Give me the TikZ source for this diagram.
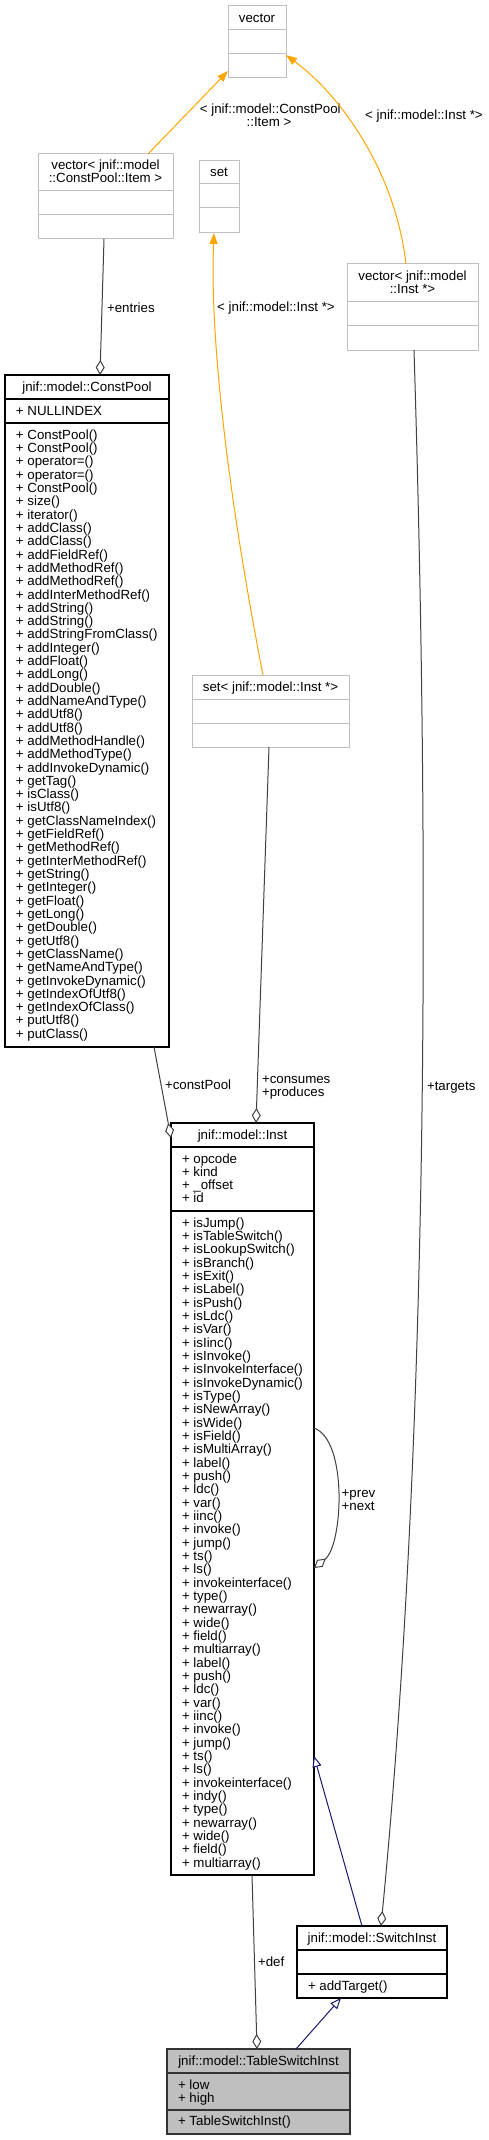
\documentclass[tikz,border=0pt]{standalone}
\usepackage{fontspec}
\setmainfont{Liberation Sans}
\usetikzlibrary{arrows.meta,calc}
\definecolor{boxgray}{HTML}{BFBFBF}
\definecolor{tmplorange}{HTML}{FFA500}
\definecolor{edgegray}{HTML}{404040}
\definecolor{inhnavy}{HTML}{191970}
\definecolor{tsfill}{HTML}{BFBFBF}
\begin{document}
\begin{tikzpicture}[x=1pt,y=-1pt,
  every node/.style={font=\fontsize{13.3}{13.3}\selectfont, inner sep=0pt, outer sep=0pt},
  graybox/.style={draw=boxgray, line width=1pt, anchor=north west, fill=white},
  blackbox/.style={draw=black, line width=1.1pt, anchor=north west, fill=white},
  tsbox/.style={draw=black!80, line width=1.1pt, anchor=north west, fill=tsfill},
  graydiv/.style={draw=boxgray, line width=1pt},
  blackdiv/.style={draw=black, line width=1.1pt},
  ttl/.style={anchor=base},
  mem/.style={anchor=base west},
  lbl/.style={anchor=base west},
  clbl/.style={anchor=base},
  tmpl/.style={draw=tmplorange, line width=1pt, -{Triangle[length=11pt,width=8pt,fill=tmplorange]}},
  inh/.style={draw=inhnavy, line width=1pt, -{Triangle[length=11pt,width=9pt,fill=white]}},
  agg/.style={draw=edgegray, line width=1pt, -{Diamond[length=15pt,width=9pt,fill=white]}},
]
\useasboundingbox (0,0) rectangle (488,2140);

% ---------- boxes ----------
\node[graybox, minimum width=58pt, minimum height=72pt] (vec) at (228,6) {};
\draw[graydiv] ($(vec.north west)+(0,24)$) -- ($(vec.north east)+(0,24)$);
\draw[graydiv] ($(vec.north west)+(0,48)$) -- ($(vec.north east)+(0,48)$);
\node[ttl] (vecT) at (257,22.3) {vector};

\node[graybox, minimum width=135pt, minimum height=85pt] (vecItem) at (38,154) {};
\draw[graydiv] ($(vecItem.north west)+(0,37)$) -- ($(vecItem.north east)+(0,37)$);
\draw[graydiv] ($(vecItem.north west)+(0,61)$) -- ($(vecItem.north east)+(0,61)$);
\node[ttl] (vecItemT1) at (105.5,169.5) {vector< jnif::model};
\node[ttl] (vecItemT2) at (105.5,183) {::ConstPool::Item >};

\node[graybox, minimum width=40pt, minimum height=72pt] (set) at (199,161) {};
\draw[graydiv] ($(set.north west)+(0,23)$) -- ($(set.north east)+(0,23)$);
\draw[graydiv] ($(set.north west)+(0,47)$) -- ($(set.north east)+(0,47)$);
\node[ttl] (setT) at (219,177) {set};

\node[graybox, minimum width=131pt, minimum height=86pt] (vecInst) at (347,264) {};
\draw[graydiv] ($(vecInst.north west)+(0,38)$) -- ($(vecInst.north east)+(0,38)$);
\draw[graydiv] ($(vecInst.north west)+(0,62)$) -- ($(vecInst.north east)+(0,62)$);
\node[ttl] (vecInstT1) at (412.5,280.2) {vector< jnif::model};
\node[ttl] (vecInstT2) at (412.5,293.7) {::Inst *>};

\node[graybox, minimum width=157pt, minimum height=72pt] (setInst) at (192,675) {};
\draw[graydiv] ($(setInst.north west)+(0,24)$) -- ($(setInst.north east)+(0,24)$);
\draw[graydiv] ($(setInst.north west)+(0,48)$) -- ($(setInst.north east)+(0,48)$);
\node[ttl] (setInstT) at (270.5,691.3) {set< jnif::model::Inst *>};

\node[blackbox, minimum width=164pt, minimum height=672pt] (cp) at (5,375) {};
\draw[blackdiv] ($(cp.north west)+(0,24)$) -- ($(cp.north east)+(0,24)$);
\draw[blackdiv] ($(cp.north west)+(0,48)$) -- ($(cp.north east)+(0,48)$);
\node[ttl] (cpT) at (87,391.3) {jnif::model::ConstPool};
\node[mem] (cpA) at (16,415.3) {+ NULLINDEX};
\foreach \t [count=\i from 0] in {ConstPool(),ConstPool(),operator=(),operator=(),ConstPool(),size(),iterator(),addClass(),addClass(),addFieldRef(),addMethodRef(),addMethodRef(),addInterMethodRef(),addString(),addString(),addStringFromClass(),addInteger(),addFloat(),addLong(),addDouble(),addNameAndType(),addUtf8(),addUtf8(),addMethodHandle(),addMethodType(),addInvokeDynamic(),getTag(),isClass(),isUtf8(),getClassNameIndex(),getFieldRef(),getMethodRef(),getInterMethodRef(),getString(),getInteger(),getFloat(),getLong(),getDouble(),getUtf8(),getClassName(),getNameAndType(),getInvokeDynamic(),getIndexOfUtf8(),getIndexOfClass(),putUtf8(),putClass()}
  \node[mem] (cpM\i) at (16,{439.3+13.31*\i}) {+ \t};

\node[blackbox, minimum width=143pt, minimum height=752pt] (inst) at (171,1123) {};
\draw[blackdiv] ($(inst.north west)+(0,24)$) -- ($(inst.north east)+(0,24)$);
\draw[blackdiv] ($(inst.north west)+(0,88)$) -- ($(inst.north east)+(0,88)$);
\node[ttl] (instT) at (242.5,1139.3) {jnif::model::Inst};
\foreach \t [count=\i from 0] in {opcode,kind,\_offset,id}
  \node[mem] (instA\i) at (182,{1163.3+13.2*\i}) {+ \t};
\foreach \t [count=\i from 0] in {isJump(),isTableSwitch(),isLookupSwitch(),isBranch(),isExit(),isLabel(),isPush(),isLdc(),isVar(),isIinc(),isInvoke(),isInvokeInterface(),isInvokeDynamic(),isType(),isNewArray(),isWide(),isField(),isMultiArray(),label(),push(),ldc(),var(),iinc(),invoke(),jump(),ts(),ls(),invokeinterface(),type(),newarray(),wide(),field(),multiarray(),label(),push(),ldc(),var(),iinc(),invoke(),jump(),ts(),ls(),invokeinterface(),indy(),type(),newarray(),wide(),field(),multiarray()}
  \node[mem] (instM\i) at (182,{1227.3+13.33*\i}) {+ \t};

\node[blackbox, minimum width=150pt, minimum height=72pt] (sw) at (297,1926) {};
\draw[blackdiv] ($(sw.north west)+(0,24)$) -- ($(sw.north east)+(0,24)$);
\draw[blackdiv] ($(sw.north west)+(0,48)$) -- ($(sw.north east)+(0,48)$);
\node[ttl] (swT) at (372,1942.3) {jnif::model::SwitchInst};
\node[mem] (swM) at (308,1990.3) {+ addTarget()};

\node[tsbox, minimum width=183pt, minimum height=85pt] (ts) at (167,2049) {};
\draw[blackdiv, draw=black!80] ($(ts.north west)+(0,24)$) -- ($(ts.north east)+(0,24)$);
\draw[blackdiv, draw=black!80] ($(ts.north west)+(0,61)$) -- ($(ts.north east)+(0,61)$);
\node[ttl] (tsT) at (258.5,2065.3) {jnif::model::TableSwitchInst};
\node[mem] (tsA0) at (178,2089) {+ low};
\node[mem] (tsA1) at (178,2102.3) {+ high};
\node[mem] (tsM) at (178,2125.8) {+ TableSwitchInst()};

% ---------- connectors ----------
\draw[tmpl] ($(vecItem.north west)+(110,0)$) -- ($(vec.north west)+(0,65)$);
\node[clbl] (e1a) at (270.3,113.7) {< jnif::model::ConstPool};
\node[clbl] (e1b) at (269,127) {::Item >};

\draw[tmpl] ($(vecInst.north west)+(59,0)$) .. controls (395,170) and (340,95) .. ($(vec.north east)+(0,49)$);
\node[clbl] (e2) at (424,119.5) {< jnif::model::Inst *>};

\draw[tmpl] ($(setInst.north west)+(71,0)$) .. controls (225,480) and (210,330) .. ($(set.south west)+(15,0)$);
\node[clbl] (e3) at (276,311.5) {< jnif::model::Inst *>};

\draw[agg] ($(vecItem.south west)+(66,0)$) -- ($(cp.north west)+(95,0)$);
\node[lbl] (e4) at (107,312.5) {+entries};

\draw[agg] ($(cp.south west)+(149,0)$) -- ($(inst.north west)+(0,15)$);
\node[lbl] (e5) at (165,1089) {+constPool};

\draw[agg] ($(setInst.south west)+(77,0)$) -- ($(inst.north west)+(85,0)$);
\node[lbl] (e6a) at (262,1083) {+consumes};
\node[lbl] (e6b) at (262,1096.3) {+produces};

\draw[agg] ($(inst.north east)+(0,305)$) .. controls (348,1440) and (343,1545) .. ($(inst.north east)+(0,445)$);
\node[lbl] (e7a) at (341.7,1497) {+prev};
\node[lbl] (e7b) at (341.7,1510.3) {+next};

\draw[inh] ($(sw.north west)+(65,0)$) -- ($(inst.north east)+(0,633)$);

\draw[agg] ($(vecInst.south west)+(67,0)$) .. controls (428,800) and (432,1400) .. ($(sw.north west)+(84,0)$);
\node[lbl] (e9) at (427,1090) {+targets};

\draw[agg] ($(inst.south west)+(81,0)$) -- ($(ts.north west)+(90,0)$);
\node[lbl] (e10) at (258,1966.5) {+def};

\draw[inh] ($(ts.north west)+(129,0)$) -- ($(sw.south west)+(44,0)$);
\end{tikzpicture}
\end{document}
